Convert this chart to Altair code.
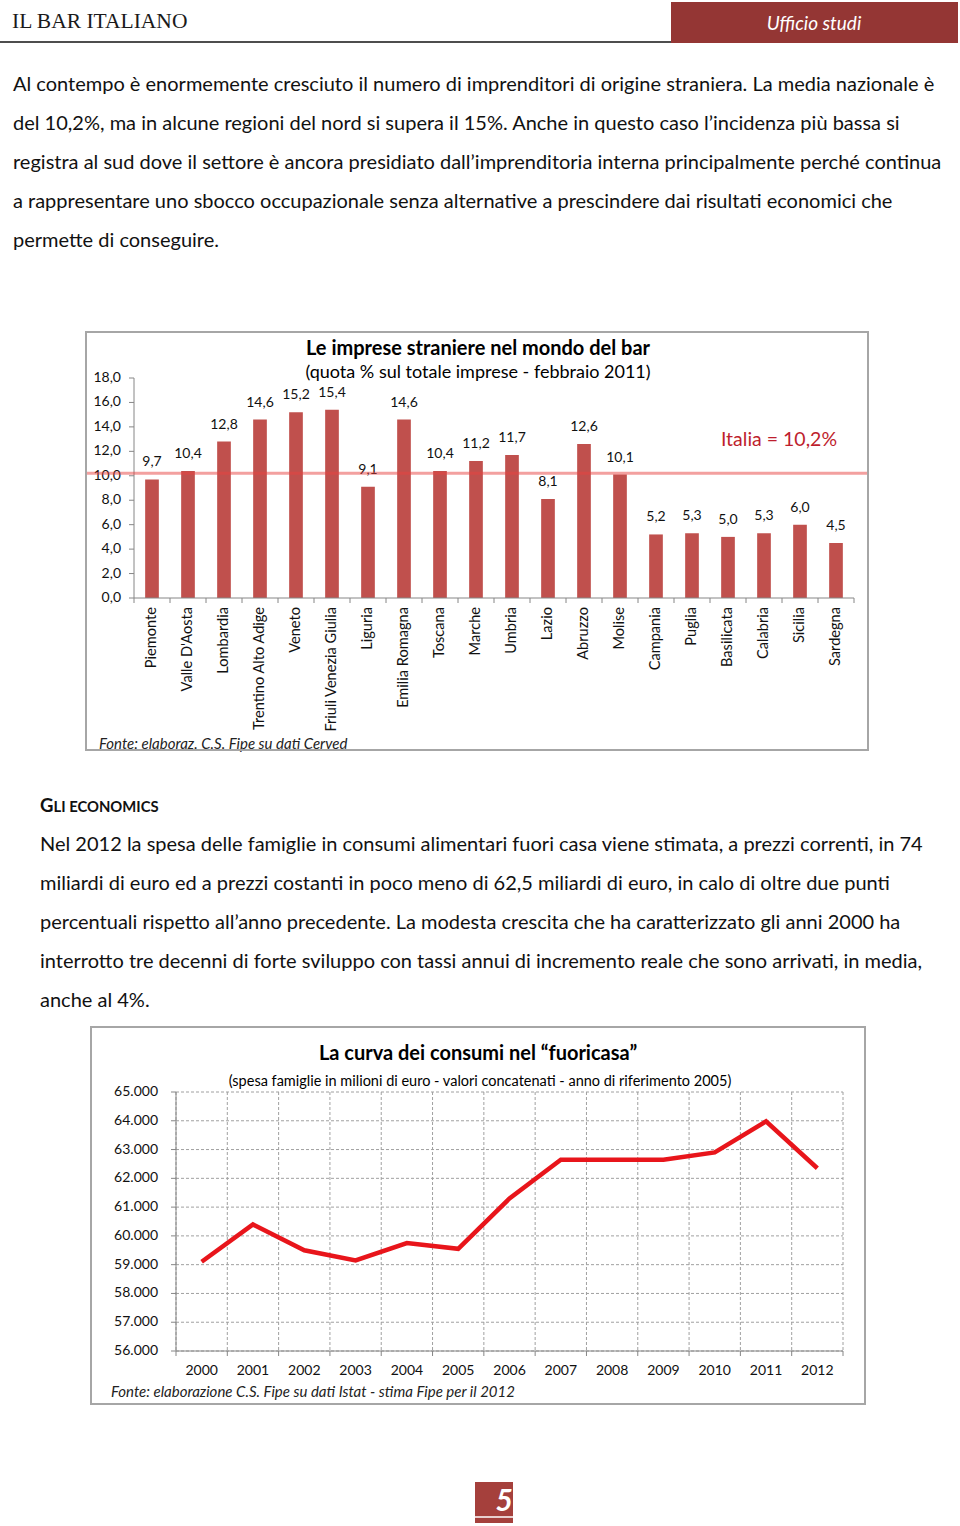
import altair as alt
import pandas as pd

SANS = "Lato"
SERIF = "Liberation Serif"

# ---------------- data ----------------
regioni = ["Piemonte", "Valle D'Aosta", "Lombardia", "Trentino Alto Adige", "Veneto",
           "Friuli Venezia Giulia", "Liguria", "Emilia Romagna", "Toscana", "Marche",
           "Umbria", "Lazio", "Abruzzo", "Molise", "Campania", "Puglia", "Basilicata",
           "Calabria", "Sicilia", "Sardegna"]
quota = [9.7, 10.4, 12.8, 14.6, 15.2, 15.4, 9.1, 14.6, 10.4, 11.2, 11.7, 8.1, 12.6,
         10.1, 5.2, 5.3, 5.0, 5.3, 6.0, 4.5]
italia = 10.2
y1_ticks = [0, 2, 4, 6, 8, 10, 12, 14, 16, 18]

anni = ["2000", "2001", "2002", "2003", "2004", "2005", "2006", "2007", "2008",
        "2009", "2010", "2011", "2012"]
spesa = [59100, 60400, 59500, 59150, 59750, 59550, 61300, 62650, 62650, 62650,
         62900, 63980, 62350]
y2_ticks = [56000, 57000, 58000, 59000, 60000, 61000, 62000, 63000, 64000, 65000]

para1 = [
    "Al contempo è enormemente cresciuto il numero di imprenditori di origine straniera. La media nazionale è",
    "del 10,2%, ma in alcune regioni del nord si supera il 15%. Anche in questo caso l’incidenza più bassa si",
    "registra al sud dove il settore è ancora presidiato dall’imprenditoria interna principalmente perché continua",
    "a rappresentare uno sbocco occupazionale senza alternative a prescindere dai risultati economici che",
    "permette di conseguire.",
]
para2 = [
    "Nel 2012 la spesa delle famiglie in consumi alimentari fuori casa viene stimata, a prezzi correnti, in 74",
    "miliardi di euro ed a prezzi costanti in poco meno di 62,5 miliardi di euro, in calo di oltre due punti",
    "percentuali rispetto all’anno precedente. La modesta crescita che ha caratterizzato gli anni 2000 ha",
    "interrotto tre decenni di forte sviluppo con tassi annui di incremento reale che sono arrivati, in media,",
    "anche al 4%.",
]

one = pd.DataFrame({"k": [0]})
layers = []


def rect(x1, y1, x2, y2, fill=None, stroke=None, sw=1.0):
    kw = {}
    if fill:
        kw["fill"] = fill
    else:
        kw["fillOpacity"] = 0
    if stroke:
        kw["stroke"] = stroke
        kw["strokeWidth"] = sw
    return alt.Chart(one).mark_rect(**kw).encode(
        x=alt.value(x1), x2=alt.value(x2), y=alt.value(y1), y2=alt.value(y2))


def rule(x1, y1, x2, y2, color, width=1.0, dash=None, opacity=1.0):
    kw = dict(color=color, strokeWidth=width, opacity=opacity)
    if dash:
        kw["strokeDash"] = dash
    return alt.Chart(one).mark_rule(**kw).encode(
        x=alt.value(x1), x2=alt.value(x2), y=alt.value(y1), y2=alt.value(y2))


def txt(s, x, y, size, color="#000000", weight="normal", style="normal",
        align="left", font=SANS, baseline="middle"):
    return alt.Chart(one).mark_text(
        text=s, fontSize=size, font=font, fontWeight=weight, fontStyle=style,
        color=color, align=align, baseline=baseline).encode(
        x=alt.value(x), y=alt.value(y))


# ---------------- header ----------------
layers.append(rule(0, 42, 671, 42, "#4d4d4d", 2))
layers.append(rect(671, 2, 958, 43, fill="#943634"))
layers.append(txt("IL BAR ITALIANO", 12, 22, 21.5, font=SERIF, color="#1a1a1a"))
layers.append(txt("Ufficio studi", 814, 24, 19, color="#ffffff", style="italic", align="center"))

# ---------------- paragraph 1 ----------------
for i, line in enumerate(para1):
    layers.append(txt(line, 13, 85 + 39 * i, 20, color="#111111"))

# ---------------- chart 1 ----------------
layers.append(txt("Le imprese straniere nel mondo del bar", 478, 349, 20, weight="bold", align="center"))
layers.append(txt("(quota % sul totale imprese - febbraio 2011)", 478, 373, 18, align="center"))

df1 = pd.DataFrame({
    "regione": regioni,
    "quota": quota,
    "label": [f"{v:.1f}".replace(".", ",") for v in quota],
})
xs1 = alt.Scale(domain=regioni, range=[134, 854], paddingInner=0.62, paddingOuter=0.31)
ys1 = alt.Scale(domain=[0, 18], range=[598, 378], nice=False, zero=True)
X1 = alt.X("regione:N", sort=None, scale=xs1, axis=None)
Y1 = alt.Y("quota:Q", scale=ys1, axis=None)

layers.append(alt.Chart(df1).mark_bar(color="#c0504d").encode(x=X1, y=Y1))
layers.append(alt.Chart(df1).mark_text(fontSize=14, font=SANS, dy=-17, baseline="middle",
                                       color="#111111").encode(x=X1, y=Y1, text="label:N"))
layers.append(alt.Chart(df1).mark_text(fontSize=14.6, font=SANS, angle=270, align="right",
                                       baseline="middle", color="#111111").encode(
    x=X1, y=alt.value(607), text="regione:N"))

# y axis
dfy1 = pd.DataFrame({"v": y1_ticks, "label": [f"{v:.1f}".replace(".", ",") for v in y1_ticks]})
Yt1 = alt.Y("v:Q", scale=ys1, axis=None)
layers.append(alt.Chart(dfy1).mark_text(fontSize=14, font=SANS, align="right", baseline="middle",
                                        color="#111111").encode(x=alt.value(121), y=Yt1, text="label:N"))
layers.append(alt.Chart(dfy1).mark_rule(color="#868686", strokeWidth=1).encode(
    x=alt.value(129), x2=alt.value(134), y=Yt1))
layers.append(rule(134, 378, 134, 598, "#868686", 1))
# x axis
layers.append(rule(134, 598, 854, 598, "#868686", 1))
dfb1 = pd.DataFrame({"b": list(range(len(regioni) + 1))})
layers.append(alt.Chart(dfb1).mark_rule(color="#868686", strokeWidth=1).encode(
    x=alt.X("b:Q", scale=alt.Scale(domain=[0, len(regioni)], range=[134, 854]), axis=None),
    y=alt.value(598), y2=alt.value(603)))
# Italia line
layers.append(alt.Chart(pd.DataFrame({"v": [italia]})).mark_rule(
    color="#e8413f", strokeWidth=3, opacity=0.5).encode(
    y=alt.Y("v:Q", scale=ys1, axis=None), x=alt.value(86), x2=alt.value(868)))
layers.append(txt("Italia = 10,2%", 779, 440, 19.5, color="#be1e2d", align="center"))
layers.append(txt("Fonte: elaboraz. C.S. Fipe su dati Cerved", 99, 744, 15, style="italic", color="#222222"))
layers.append(rect(86, 332, 868, 750, stroke="#a6a6a6", sw=2))

# ---------------- paragraph 2 ----------------
layers.append(txt("G", 40, 812, 18.5, weight="bold", color="#111111", baseline="alphabetic"))
layers.append(txt("LI ECONOMICS", 53.5, 812, 14.8, weight="bold", color="#111111", baseline="alphabetic"))
for i, line in enumerate(para2):
    layers.append(txt(line, 40, 845 + 39 * i, 20, color="#111111"))

# ---------------- chart 2 ----------------
layers.append(txt("La curva dei consumi nel “fuoricasa”", 478, 1054, 20, weight="bold", align="center"))
layers.append(txt("(spesa famiglie in milioni di euro - valori concatenati - anno di riferimento 2005)",
                  480, 1082, 14.5, align="center"))

xs2 = alt.Scale(type="point", domain=anni, range=[176, 843], padding=0.5)
ys2 = alt.Scale(domain=[56000, 65000], range=[1351, 1092], nice=False, zero=False)

dfy2 = pd.DataFrame({"v": y2_ticks, "label": [f"{v:,}".replace(",", ".") for v in y2_ticks]})
Yt2 = alt.Y("v:Q", scale=ys2, axis=None)
# horizontal grid
layers.append(alt.Chart(dfy2).mark_rule(color="#a0a0a0", strokeWidth=1, strokeDash=[3, 2]).encode(
    x=alt.value(176), x2=alt.value(843), y=Yt2))
# vertical grid
dfb2 = pd.DataFrame({"b": list(range(len(anni) + 1))})
Xb2 = alt.X("b:Q", scale=alt.Scale(domain=[0, len(anni)], range=[176, 843]), axis=None)
layers.append(alt.Chart(dfb2).mark_rule(color="#a0a0a0", strokeWidth=1, strokeDash=[3, 2]).encode(
    x=Xb2, y=alt.value(1092), y2=alt.value(1351)))
# axes
layers.append(rule(176, 1092, 176, 1351, "#868686", 1))
layers.append(rule(176, 1351, 843, 1351, "#868686", 1))
layers.append(alt.Chart(dfb2).mark_rule(color="#868686", strokeWidth=1).encode(
    x=Xb2, y=alt.value(1351), y2=alt.value(1356)))
layers.append(alt.Chart(dfy2).mark_rule(color="#868686", strokeWidth=1).encode(
    x=alt.value(171), x2=alt.value(176), y=Yt2))
layers.append(alt.Chart(dfy2).mark_text(fontSize=14, font=SANS, align="right", baseline="middle",
                                        color="#111111").encode(x=alt.value(158), y=Yt2, text="label:N"))

df2 = pd.DataFrame({"anno": anni, "spesa": spesa})
X2 = alt.X("anno:O", scale=xs2, axis=None)
layers.append(alt.Chart(df2).mark_line(color="#e8151b", strokeWidth=4.5, strokeJoin="miter").encode(
    x=X2, y=alt.Y("spesa:Q", scale=ys2, axis=None)))
layers.append(alt.Chart(df2).mark_text(fontSize=14, font=SANS, baseline="middle", align="center",
                                       color="#111111").encode(x=X2, y=alt.value(1371), text="anno:N"))
layers.append(txt("Fonte: elaborazione C.S. Fipe su dati Istat - stima Fipe per il 2012", 111, 1392, 15,
                  style="italic", color="#222222"))
layers.append(rect(91, 1027, 865, 1404, stroke="#a6a6a6", sw=2))

# ---------------- footer ----------------
layers.append(rect(475, 1482, 513, 1523, fill="#a5403c"))
layers.append(rule(475, 1517, 513, 1517, "#ffffff", 1.5))
layers.append(txt("5", 513, 1502, 30, color="#ffffff", weight="bold", style="italic", align="right"))

chart = alt.layer(*layers).resolve_scale(
    x="independent", y="independent"
).properties(
    width=960, height=1526, padding=0, autosize="none", background="#ffffff"
).configure_view(stroke=None)

chart.save("out.html", embed_options={"renderer": "svg", "actions": False})
